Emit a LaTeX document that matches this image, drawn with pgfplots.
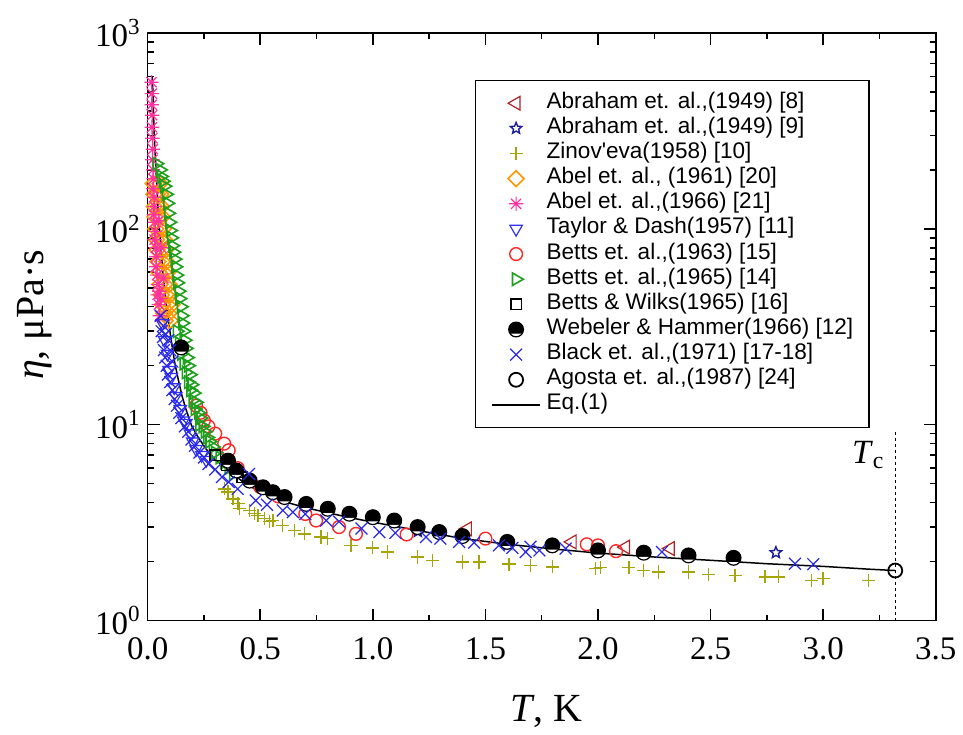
\documentclass[border=0pt]{standalone}
\usepackage{fontspec}
\setmainfont{Liberation Serif}
\newfontfamily\legfont{Liberation Sans}
\usepackage{pgfplots}
\pgfplotsset{compat=1.18}
\usetikzlibrary{calc}

\definecolor{cAbrA}{RGB}{175,35,35}
\definecolor{cAbrB}{RGB}{30,30,150}
\definecolor{cZin}{RGB}{165,165,10}
\definecolor{cAbelA}{RGB}{255,150,0}
\definecolor{cAbelB}{RGB}{255,50,160}
\definecolor{cTay}{RGB}{50,50,255}
\definecolor{cBetA}{RGB}{255,40,40}
\definecolor{cBetB}{RGB}{30,160,30}
\definecolor{cBlack}{RGB}{40,40,230}

% open five-pointed star
\pgfdeclareplotmark{ostar}{%
  \pgfpathmoveto{\pgfpointpolar{90}{\pgfplotmarksize}}%
  \pgfpathlineto{\pgfpointpolar{126}{0.45\pgfplotmarksize}}%
  \pgfpathlineto{\pgfpointpolar{162}{\pgfplotmarksize}}%
  \pgfpathlineto{\pgfpointpolar{198}{0.45\pgfplotmarksize}}%
  \pgfpathlineto{\pgfpointpolar{234}{\pgfplotmarksize}}%
  \pgfpathlineto{\pgfpointpolar{270}{0.45\pgfplotmarksize}}%
  \pgfpathlineto{\pgfpointpolar{306}{\pgfplotmarksize}}%
  \pgfpathlineto{\pgfpointpolar{342}{0.45\pgfplotmarksize}}%
  \pgfpathlineto{\pgfpointpolar{18}{\pgfplotmarksize}}%
  \pgfpathlineto{\pgfpointpolar{54}{0.45\pgfplotmarksize}}%
  \pgfpathclose
  \pgfusepathqstroke}
% eight-armed asterisk
\pgfdeclareplotmark{ast8}{%
  \pgfpathmoveto{\pgfqpoint{-\pgfplotmarksize}{0pt}}\pgfpathlineto{\pgfqpoint{\pgfplotmarksize}{0pt}}%
  \pgfpathmoveto{\pgfqpoint{0pt}{-\pgfplotmarksize}}\pgfpathlineto{\pgfqpoint{0pt}{\pgfplotmarksize}}%
  \pgfpathmoveto{\pgfqpoint{-.7071\pgfplotmarksize}{-.7071\pgfplotmarksize}}\pgfpathlineto{\pgfqpoint{.7071\pgfplotmarksize}{.7071\pgfplotmarksize}}%
  \pgfpathmoveto{\pgfqpoint{-.7071\pgfplotmarksize}{.7071\pgfplotmarksize}}\pgfpathlineto{\pgfqpoint{.7071\pgfplotmarksize}{-.7071\pgfplotmarksize}}%
  \pgfusepathqstroke}
% black ball, white lower cap
\pgfdeclareplotmark{halfball}{%
  \pgfpathcircle{\pgfpointorigin}{\pgfplotmarksize}%
  \pgfsetfillcolor{black}\pgfusepathqfill
  \pgfpathmoveto{\pgfpointpolar{215}{\pgfplotmarksize}}%
  \pgfpatharc{215}{325}{\pgfplotmarksize}%
  \pgfpathclose
  \pgfsetfillcolor{white}\pgfusepathqfill
  \pgfpathcircle{\pgfpointorigin}{\pgfplotmarksize}%
  \pgfusepathqstroke}

\begin{document}
\begin{tikzpicture}
\begin{axis}[
    name=ax,
    scale only axis,
    width=395pt, height=294.5pt,
    ymode=log,
    xmin=0, xmax=3.5, ymin=1, ymax=1000,
    xtick={0,0.5,1,1.5,2,2.5,3,3.5},
    xticklabels={0.0,0.5,1.0,1.5,2.0,2.5,3.0,3.5},
    minor x tick num=1,
    ytick={1,10,100,1000},
    yticklabels={10\textsuperscript{0},10\textsuperscript{1},10\textsuperscript{2},10\textsuperscript{3}},
    tick align=inside,
    major tick length=6pt, minor tick length=3pt,
    tick style={black, line width=0.75pt},
    axis line style={line width=0.75pt},
    ticklabel style={font=\fontsize{16.5}{18}\selectfont},
    xticklabel style={yshift=-5pt},
    xlabel={\textit{T}, K},
    ylabel={\textit{η}, μPa·s},
    label style={font=\fontsize{20}{22}\selectfont},
    xlabel style={at={(axis description cs:0.506,-0.1715)}, anchor=base},
    ylabel style={at={(axis description cs:-0.143,0.52)}, anchor=center},
    legend cell align=left,
    legend style={
      at={(0.9165,0.920)}, anchor=north east,
      draw=black, line width=0.75pt,
      font=\legfont\fontsize{11.3}{12.6}\selectfont,
      inner xsep=8pt, inner ysep=5pt,
      nodes={inner xsep=0pt, inner ysep=0pt, text height=8.8pt, text depth=3.8pt},
      column sep=3pt,
    },
    legend image code/.code={\draw[mark repeat=2,mark phase=2,#1]
      plot coordinates {(0cm,0cm) (0.42cm,0cm) (0.84cm,0cm)};},
]

% Abraham et al. (1949) [8]
\addplot[only marks, mark=triangle, mark size=4pt,
  mark options={rotate=90, draw=cAbrA, fill=none, line width=0.6pt}] coordinates {
  (1.42,2.94) (1.885,2.52) (2.122,2.37) (2.321,2.33)
};
\addlegendentry{Abraham et. al.,(1949) [8]}

% Abraham et al. (1949) [9]
\addplot[only marks, mark=ostar, mark size=3pt,
  mark options={draw=cAbrB, line width=0.7pt}] coordinates {
  (1.20,2.85) (1.60,2.45) (2.79,2.22)
};
\addlegendentry{Abraham et. al.,(1949) [9]}

% Zinov'eva (1958) [10]
\addplot[only marks, mark=+, mark size=3.3pt,
  mark options={draw=cZin, line width=0.7pt}] coordinates {
  (0.342,4.70) (0.357,4.53) (0.379,4.18) (0.401,3.95) (0.409,3.72)
  (0.453,3.65) (0.475,3.51) (0.490,3.44) (0.519,3.31) (0.541,3.21)
  (0.556,3.24) (0.600,3.06) (0.652,2.89) (0.697,2.77) (0.770,2.67)
  (0.800,2.62) (0.903,2.42) (0.999,2.35) (1.066,2.24) (1.199,2.11)
  (1.265,2.03) (1.398,1.99) (1.472,1.99) (1.605,1.94) (1.701,1.91)
  (1.797,1.88) (1.989,1.84) (2.011,1.86) (2.137,1.86) (2.203,1.80)
  (2.269,1.77) (2.402,1.77) (2.491,1.72) (2.609,1.70) (2.742,1.67)
  (2.801,1.67) (2.949,1.60) (3.000,1.64) (3.200,1.60)
};
\addlegendentry{Zinov'eva(1958) [10]}

% Abel et al. (1961) [20]
\addplot[only marks, mark=square, mark size=2.8pt,
  mark options={rotate=45, draw=cAbelA, fill=none, line width=0.8pt}] coordinates {
  (0.025,170) (0.040,170) (0.055,170)
  (0.028,150) (0.043,150) (0.058,150)
  (0.030,130) (0.046,130) (0.062,130)
  (0.033,115) (0.050,115) (0.066,115)
  (0.036,100) (0.053,100) (0.070,100)
  (0.039,88) (0.057,88) (0.075,88)
  (0.042,78) (0.062,78) (0.080,78)
  (0.046,68) (0.066,68) (0.085,68)
  (0.050,60) (0.071,60) (0.090,60)
  (0.055,52) (0.076,52) (0.096,52)
  (0.060,46) (0.082,46) (0.102,46)
  (0.066,41) (0.088,41) (0.108,41)
  (0.072,37) (0.094,37)
  (0.078,34) (0.100,34)
};
\addlegendentry{Abel et. al., (1961) [20]}

% Abel et al. (1966) [21]
\addplot[only marks, mark=ast8, mark size=3.6pt,
  mark options={draw=cAbelB, line width=0.6pt}] coordinates {
  (0.017,560) (0.019,490) (0.018,430) (0.020,380) (0.019,330) (0.021,290)
  (0.023,255) (0.021,225) (0.024,200) (0.026,180) (0.024,160) (0.028,145)
  (0.030,130) (0.027,118) (0.032,108) (0.034,97) (0.031,88) (0.036,80)
  (0.039,72) (0.037,64) (0.042,58) (0.046,52) (0.044,46) (0.050,41)
  (0.054,36) (0.052,48) (0.058,44) (0.048,110) (0.060,80) (0.070,56)
};
\addlegendentry{Abel et. al.,(1966) [21]}

% Taylor & Dash (1957) [11]
\addplot[only marks, mark=triangle, mark size=3.6pt,
  mark options={rotate=180, draw=cTay, fill=none, line width=0.6pt}] coordinates {
  (0.065,33) (0.075,27) (0.088,23) (0.095,19) (0.105,17.5) (0.118,15.5)
  (0.125,14) (0.145,12) (0.160,10.5) (0.170,10.2) (0.190,9.0) (0.200,8.2)
  (0.215,7.5) (0.240,7.0) (0.260,6.6)
};
\addlegendentry{Taylor \& Dash(1957) [11]}

% Betts et al. (1963) [15]
\addplot[only marks, mark=o, mark size=3.2pt,
  mark options={draw=cBetA, line width=0.7pt}] coordinates {
  (0.215,12.5) (0.235,11.5) (0.250,10.5) (0.270,9.8) (0.300,9.0) (0.340,8.0)
  (0.360,7.4) (0.400,6.0) (0.500,4.8) (0.580,4.3) (0.700,3.5) (0.748,3.24)
  (0.850,3.0) (0.925,2.77) (1.150,2.75) (1.500,2.62) (1.950,2.45) (2.000,2.42)
  (2.080,2.26)
};
\addlegendentry{Betts et. al.,(1963) [15]}

% Betts et al. (1965) [14]
\addplot[only marks, mark=triangle, mark size=3.6pt,
  mark options={rotate=-90, draw=cBetB, fill=none, line width=0.8pt}] coordinates {
  (0.040,215) (0.055,200) (0.060,185) (0.068,175) (0.075,165) (0.082,150)
  (0.088,135) (0.092,120) (0.097,108) (0.100,98) (0.105,90) (0.110,82)
  (0.115,76) (0.120,70) (0.124,64) (0.128,58) (0.132,53) (0.138,48)
  (0.142,44) (0.148,40) (0.152,36) (0.155,33) (0.160,30) (0.130,30)
  (0.165,27) (0.140,26) (0.170,24.5) (0.150,23) (0.175,22) (0.160,20.5)
  (0.180,20) (0.170,18.5) (0.188,18) (0.180,16.5) (0.195,16) (0.190,15)
  (0.205,14.5) (0.200,13.3) (0.215,13) (0.210,12) (0.225,11.5) (0.235,10.8)
  (0.230,10) (0.245,9.8) (0.255,9.2) (0.265,8.6) (0.275,8.2) (0.290,7.7)
  (0.300,7.2) (0.320,6.8) (0.340,6.4) (0.360,6.0) (0.380,5.6)
};
\addlegendentry{Betts et. al.,(1965) [14]}

% Betts & Wilks (1965) [16]
\addplot[only marks, mark=square, mark size=2.6pt,
  mark options={draw=black, fill=none, line width=0.7pt}] coordinates {
  (0.30,7.0) (0.35,6.2) (0.40,5.7) (0.42,5.4)
};
\addlegendentry{Betts \& Wilks(1965) [16]}

% Webeler & Hammer (1966) [12]
\addplot[only marks, mark=halfball, mark size=3.7pt,
  mark options={draw=black, line width=0.6pt}] coordinates {
  (0.149,24.8) (0.357,6.55) (0.394,5.83) (0.453,5.18) (0.512,4.79)
  (0.556,4.52) (0.608,4.27) (0.704,3.94) (0.800,3.72) (0.896,3.51)
  (1.000,3.37) (1.095,3.24) (1.199,3.00) (1.295,2.83) (1.398,2.70)
  (1.597,2.52) (1.797,2.42) (2.000,2.28) (2.203,2.22) (2.402,2.15)
  (2.602,2.09)
};
\addlegendentry{Webeler \& Hammer(1966) [12]}

% Black et al. (1971) [17-18]
\addplot[only marks, mark=x, mark size=4.2pt,
  mark options={draw=cBlack, line width=0.6pt}] coordinates {
  (0.058,36) (0.062,30) (0.068,28) (0.072,24) (0.078,22) (0.085,20)
  (0.070,32) (0.080,29) (0.092,27) (0.100,24) (0.110,21)
  (0.090,18) (0.100,16.5) (0.110,15) (0.120,13.5) (0.130,12.5) (0.140,11.5)
  (0.150,10.8) (0.165,9.8) (0.180,9.2) (0.195,8.4) (0.210,7.8) (0.230,7.2)
  (0.250,6.8) (0.270,6.3) (0.300,5.9) (0.330,5.4) (0.360,5.1) (0.400,4.7)
  (0.450,5.6) (0.480,4.1) (0.530,3.9) (0.600,3.65) (0.645,3.58) (0.700,3.5)
  (0.793,3.24) (0.850,3.2) (0.950,2.95) (1.029,2.83) (1.100,2.8) (1.236,2.67)
  (1.300,2.62) (1.383,2.52) (1.450,2.5) (1.560,2.42) (1.620,2.35) (1.679,2.24)
  (1.700,2.38) (1.740,2.28) (1.856,2.33) (2.284,2.24) (2.875,1.95) (2.956,1.94)
};
\addlegendentry{Black et. al.,(1971) [17-18]}

% Agosta et al. (1987) [24]
\addplot[only marks, mark=o, mark size=3.5pt,
  mark options={draw=black, fill=white, line width=0.9pt}] coordinates {
  (3.32,1.80)
};
\addlegendentry{Agosta et. al.,(1987) [24]}

% Eq.(1)
\addplot[black, line width=0.75pt, mark=none] coordinates {
  (0.021,600) (0.024,470) (0.027,360) (0.030,290) (0.034,235) (0.038,190)
  (0.042,156) (0.046,128) (0.050,112) (0.054,93) (0.058,82) (0.062,72)
  (0.066,63) (0.071,55) (0.079,45) (0.088,37.4) (0.097,31) (0.108,25.5)
  (0.120,20.8) (0.136,17.0) (0.152,14.1) (0.172,11.8) (0.195,9.9) (0.222,8.7)
  (0.260,7.5) (0.296,6.7) (0.370,5.7) (0.444,4.9) (0.530,4.4) (0.621,4.0)
  (0.710,3.75) (0.800,3.55) (0.900,3.35) (1.000,3.18) (1.200,2.88) (1.400,2.62)
  (1.600,2.45) (1.800,2.32) (2.000,2.21) (2.250,2.11) (2.500,2.03) (2.750,1.95)
  (3.000,1.89) (3.200,1.83) (3.320,1.80)
};
\addlegendentry{Eq.(1)}

\draw[black, line width=0.7pt, dash pattern=on 1.5pt off 1.5pt]
  (axis cs:3.32,1) -- (axis cs:3.32,9.5);
\node[font=\fontsize{17}{19}\selectfont] at (axis cs:3.20,7.0)
  {\textit{T}\textsubscript{c}};

\end{axis}
\path ($(ax.south west)+(-74pt,-54.5pt)$) rectangle ($(ax.north east)+(12.5pt,16.5pt)$);
\end{tikzpicture}
\end{document}
